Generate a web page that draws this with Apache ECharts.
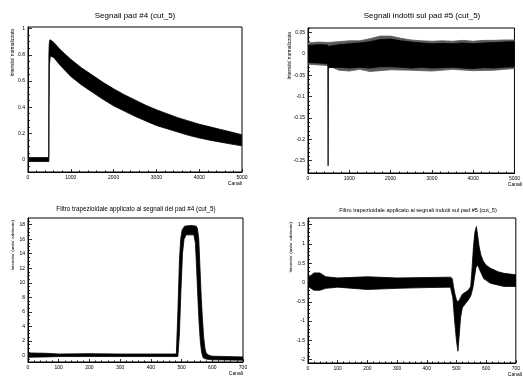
<!DOCTYPE html>
<html><head><meta charset="utf-8">
<script src="https://cdn.jsdelivr.net/npm/echarts@6/dist/echarts.min.js"></script>
<style>html,body{margin:0;padding:0;background:#fff}#c{width:523px;height:377px}</style>
</head><body><div id="c"></div>
<script>
// ---- Titles / labels ----
const titles = [
  'Segnali pad #4 (cut_5)',
  'Segnali indotti sul pad #5 (cut_5)',
  'Filtro trapezioidale applicato ai segnali del pad #4 (cut_5)',
  'Filtro trapezioidale applicato ai segnali indotti sul pad #5 (cut_5)'
];
const yTitles = ["Intensita' normalizzata", "Intensita' normalizzata",
  "Intensita' (unita' arbitrarie)", "Intensita' (unita' arbitrarie)"];
const xTitle = 'Canali';

// ---- Tick labels ----
const p1XTicks = [0, 1000, 2000, 3000, 4000, 5000];
const p1YTicks = [0, 0.2, 0.4, 0.6, 0.8, 1];
const p2XTicks = [0, 1000, 2000, 3000, 4000, 5000];
const p2YTicks = [-0.25, -0.2, -0.15, -0.1, -0.05, 0, 0.05];
const p3XTicks = [0, 100, 200, 300, 400, 500, 600, 700];
const p3YTicks = [0, 2, 4, 6, 8, 10, 12, 14, 16, 18];
const p4XTicks = [0, 100, 200, 300, 400, 500, 600, 700];
const p4YTicks = [-2, -1.5, -1, -0.5, 0, 0.5, 1, 1.5];

// ---- Data: envelopes of the overlaid waveforms [channel, value] ----
const p1Upper = [[0,0.015],[484,0.015],[488,0.80],[496,0.88],[505,0.905],[520,0.915],[600,0.895],[750,0.84],
  [1000,0.765],[1250,0.70],[1500,0.645],[1750,0.59],[2000,0.54],[2250,0.495],[2500,0.455],[2750,0.415],
  [3000,0.38],[3250,0.35],[3500,0.32],[3750,0.295],[4000,0.27],[4250,0.25],[4500,0.23],[4750,0.21],[4990,0.19]];
const p1Lower = [[0,-0.015],[488,-0.015],[492,0.40],[500,0.72],[520,0.79],[600,0.78],[750,0.72],
  [1000,0.635],[1250,0.57],[1500,0.515],[1750,0.46],[2000,0.41],[2250,0.37],[2500,0.33],[2750,0.295],
  [3000,0.26],[3250,0.235],[3500,0.21],[3750,0.185],[4000,0.165],[4250,0.148],[4500,0.133],[4750,0.118],[4990,0.105]];

const p2Upper = [[0,0.02],[250,0.022],[480,0.021],[487,0.008],[500,0.018],[750,0.022],[1000,0.024],[1250,0.026],
  [1500,0.029],[1750,0.034],[2000,0.035],[2250,0.031],[2500,0.028],[2750,0.026],[3000,0.024],[3250,0.025],
  [3500,0.024],[3750,0.026],[4000,0.024],[4250,0.026],[4500,0.027],[4750,0.028],[5000,0.029]];
const p2Lower = [[0,-0.02],[250,-0.021],[480,-0.023],[487,-0.262],[494,-0.032],[750,-0.031],[1000,-0.033],
  [1250,-0.031],[1500,-0.033],[1750,-0.03],[2000,-0.03],[2250,-0.031],[2500,-0.033],[2750,-0.031],[3000,-0.033],
  [3250,-0.032],[3500,-0.031],[3750,-0.033],[4000,-0.034],[4250,-0.032],[4500,-0.033],[4750,-0.031],[5000,-0.03]];
const p2FringeUpper = [[0,0.026],[250,0.028],[480,0.027],[750,0.029],[1000,0.031],[1250,0.031],[1500,0.036],
  [1750,0.042],[2000,0.042],[2250,0.037],[2500,0.033],[2750,0.031],[3000,0.03],[3250,0.031],[3500,0.03],
  [3750,0.032],[4000,0.03],[4250,0.032],[4500,0.032],[4750,0.033],[5000,0.033]];
const p2FringeLower = [[0,-0.024],[480,-0.027],[750,-0.038],[1000,-0.04],[1250,-0.036],[1500,-0.041],
  [1750,-0.039],[2000,-0.037],[2500,-0.038],[3000,-0.04],[3500,-0.036],[4000,-0.039],[4500,-0.038],[5000,-0.034]];

const p3Upper = [[0,0.35],[60,0.3],[100,0.2],[200,0.25],[300,0.2],[400,0.2],[483,0.2],[488,6],[493,13],[497,16],
  [502,17.3],[510,17.8],[530,17.9],[548,17.8],[552,17.4],[556,16],[560,12],[564,8],[568,5],[572,2.5],[576,1],
  [580,0.3],[590,0],[600,-0.1],[700,-0.2]];
const p3Lower = [[0,-0.25],[60,-0.2],[100,-0.15],[200,-0.15],[300,-0.15],[400,-0.15],[488,-0.15],[493,3],
  [498,9],[503,14],[508,16],[515,16.6],[540,16.6],[545,15.5],[549,12],[553,8],[557,4.5],[561,2],[565,0.5],
  [570,-0.3],[580,-0.5],[600,-0.6],[700,-0.65]];

const p4Upper = [[0,0.12],[20,0.25],[40,0.25],[60,0.15],[100,0.12],[200,0.15],[300,0.12],[400,0.13],[480,0.14],
  [486,0.1],[490,-0.1],[495,-0.3],[500,-0.45],[505,-0.5],[510,-0.45],[520,-0.3],[540,-0.2],[548,-0.1],[552,0.3],
  [557,0.9],[562,1.3],[567,1.45],[571,1.25],[576,0.95],[582,0.72],[590,0.56],[600,0.45],[615,0.37],[640,0.28],
  [660,0.24],[700,0.2]];
const p4Lower = [[0,-0.1],[20,-0.2],[40,-0.2],[60,-0.15],[100,-0.12],[200,-0.18],[300,-0.15],[400,-0.13],
  [480,-0.12],[488,-0.4],[494,-1.0],[500,-1.5],[505,-1.78],[509,-1.4],[514,-0.9],[520,-0.65],[530,-0.55],
  [540,-0.45],[548,-0.35],[555,-0.15],[560,0.1],[566,0.4],[572,0.45],[580,0.3],[592,0.1],[615,-0.02],
  [660,-0.1],[700,-0.1]];

// ---- Layout ----
const panels = [
  {grid:{left:28, top:27, width:214, height:145}, xr:[0,5000], yr:[-0.095,1.012], xt:p1XTicks, yt:p1YTicks, xm:200, ym:0.05,
   bands:[[p1Upper,p1Lower,'#000']], title:{x:135,y:16,size:8}, yt_pos:{x:13,y:29,size:4.8}},
  {grid:{left:308, top:28, width:214, height:145}, xr:[0,5000], yr:[-0.279,0.061], xt:p2XTicks, yt:p2YTicks, xm:200, ym:0.01,
   bands:[[p2FringeUpper,p2FringeLower,'#5a5a5a'],[p2Upper,p2Lower,'#000']], title:{x:422,y:16,size:8}, yt_pos:{x:290,y:32,size:4.8}},
  {grid:{left:28, top:218, width:215, height:144}, xr:[0,700], yr:[-0.9,18.92], xt:p3XTicks, yt:p3YTicks, xm:20, ym:0.5,
   bands:[[p3Upper,p3Lower,'#000']], title:{x:136,y:209,size:6.3}, yt_pos:{x:13,y:220,size:4.4}},
  {grid:{left:308, top:218, width:214, height:145}, xr:[0,700], yr:[-2.086,1.674], xt:p4XTicks, yt:p4YTicks, xm:20, ym:0.1,
   bands:[[p4Upper,p4Lower,'#000']], title:{x:418,y:210,size:5.6}, yt_pos:{x:291,y:222,size:4.4}}
];

const FONT = 'Liberation Sans, Arial, sans-serif';
const fmt = v => String(+(+v).toFixed(4));
function minors(lo, hi, step, majors) {
  const out = [];
  const start = Math.ceil(lo / step - 1e-9);
  for (let k = start; k * step <= hi + 1e-12; k++) {
    const v = +(k * step).toFixed(6);
    if (!majors.some(m => Math.abs(m - v) < step * 1e-3)) out.push(v);
  }
  return out;
}

const option = {animation:false, backgroundColor:'#fff', grid:[], xAxis:[], yAxis:[], series:[], title:[], graphic:[]};
panels.forEach((p, i) => {
  option.grid.push(Object.assign({show:true, borderColor:'#000', borderWidth:1, backgroundColor:'transparent', containLabel:false}, p.grid));
  const axLine = {show:true, onZero:false, lineStyle:{color:'#000', width:1}};
  option.xAxis.push({type:'value', gridIndex:i, position:'bottom', min:p.xr[0], max:p.xr[1], splitLine:{show:false}, axisLine:axLine,
    axisTick:{show:true, inside:true, length:3, lineStyle:{color:'#000', width:0.8}, customValues:p.xt},
    axisLabel:{show:true, customValues:p.xt, formatter:fmt, fontSize:5, fontFamily:FONT, color:'#000', margin:3, hideOverlap:false, showMinLabel:true, showMaxLabel:true}});
  option.xAxis.push({type:'value', gridIndex:i, position:'bottom', min:p.xr[0], max:p.xr[1], splitLine:{show:false}, axisLine:{show:false, onZero:false},
    axisTick:{show:true, inside:true, length:1.6, lineStyle:{color:'#000', width:0.8}, customValues:minors(p.xr[0], p.xr[1], p.xm, p.xt)},
    axisLabel:{show:false}});
  option.yAxis.push({type:'value', gridIndex:i, position:'left', min:p.yr[0], max:p.yr[1], splitLine:{show:false}, axisLine:axLine,
    axisTick:{show:true, inside:true, length:4, lineStyle:{color:'#000', width:0.8}, customValues:p.yt},
    axisLabel:{show:true, customValues:p.yt, formatter:fmt, fontSize:5, fontFamily:FONT, color:'#000', margin:3, hideOverlap:false, showMinLabel:true, showMaxLabel:true}});
  option.yAxis.push({type:'value', gridIndex:i, position:'left', min:p.yr[0], max:p.yr[1], splitLine:{show:false}, axisLine:{show:false, onZero:false},
    axisTick:{show:true, inside:true, length:2, lineStyle:{color:'#000', width:0.8}, customValues:minors(p.yr[0], p.yr[1], p.ym, p.yt)},
    axisLabel:{show:false}});
  p.bands.forEach((b, j) => {
    const up = b[0], lo = b[1], col = b[2];
    option.series.push({type:'custom', xAxisIndex:i*2, yAxisIndex:i*2, clip:true, z:2+j, silent:true,
      data:[[up[0][0], up[0][1]]],
      renderItem: function(params, api) {
        const pts = up.map(q => api.coord(q)).concat(lo.slice().reverse().map(q => api.coord(q)));
        return {type:'polygon', shape:{points:pts}, style:{fill:col, stroke:col, lineWidth:0.8}};
      }});
  });
  option.title.push({text:titles[i], left:p.title.x, top:p.title.y, textAlign:'center', textVerticalAlign:'middle',
    textStyle:{fontSize:p.title.size, fontWeight:'normal', fontFamily:FONT, color:'#000'}, padding:0});
  option.graphic.push({type:'text', x:p.yt_pos.x, y:p.yt_pos.y, rotation:Math.PI/2,
    style:{text:yTitles[i], fontSize:p.yt_pos.size, fontFamily:FONT, fill:'#000', align:'right', verticalAlign:'middle'}});
  option.graphic.push({type:'text', x:p.grid.left + p.grid.width, y:p.grid.top + p.grid.height + 12,
    style:{text:xTitle, fontSize:5, fontFamily:FONT, fill:'#000', align:'right', verticalAlign:'middle'}});
});

const chart = echarts.init(document.getElementById('c'), null, {renderer:'canvas'});
chart.setOption(option);
</script></body></html>
